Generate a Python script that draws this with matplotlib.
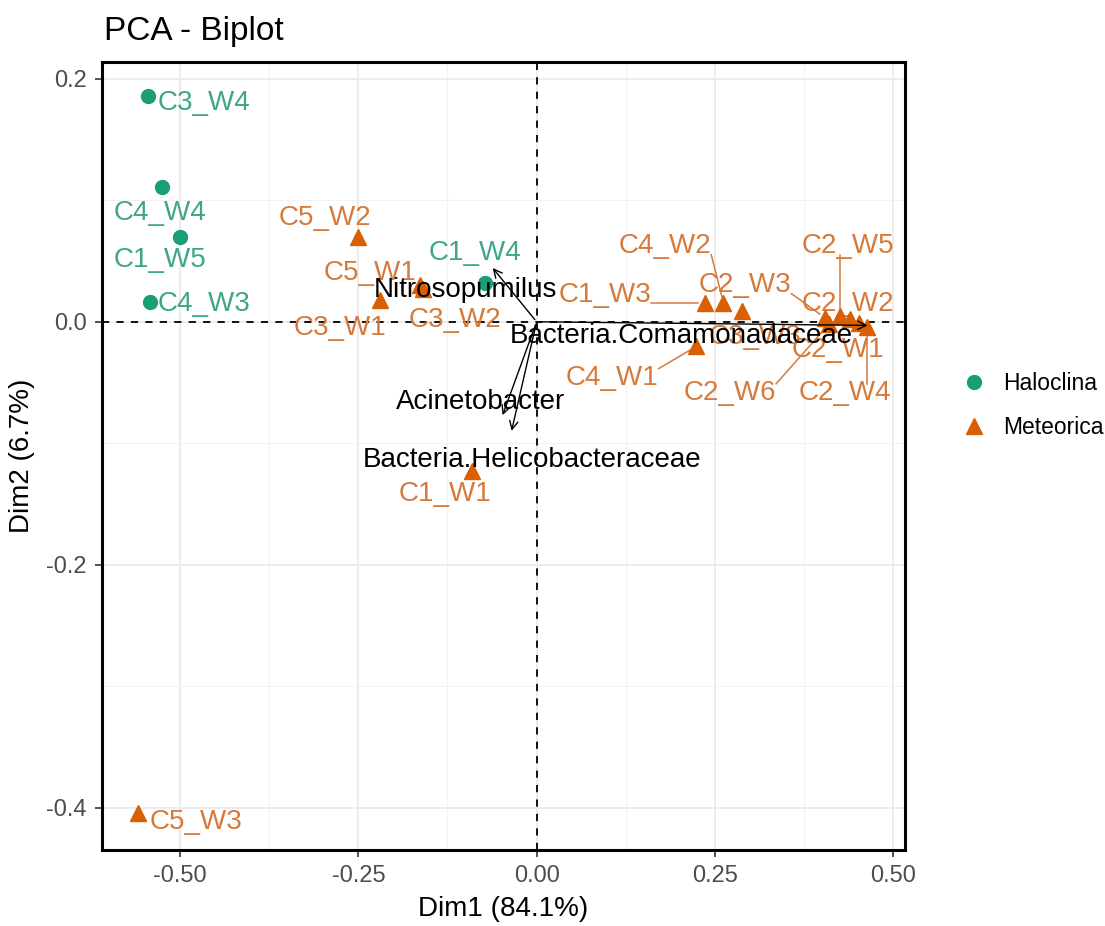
import numpy as np
import matplotlib
matplotlib.use("Agg")
import matplotlib.pyplot as plt
from matplotlib.lines import Line2D

plt.rcParams['font.family'] = ['Liberation Sans', 'DejaVu Sans']

# sample scores on the first two components
samples = ["C3_W4", "C4_W4", "C1_W5", "C4_W3", "C1_W4",
           "C5_W2", "C5_W1", "C3_W1", "C3_W2", "C1_W1", "C5_W3",
           "C1_W3", "C4_W2", "C3_W3", "C4_W1",
           "C2_W3", "C2_W5", "C2_W2", "C2_W6", "C2_W1", "C2_W4"]
group = ["Haloclina"] * 5 + ["Meteorica"] * 16
dim1 = [-0.545, -0.526, -0.500, -0.542, -0.0725,
        -0.250, -0.164, -0.220, -0.160, -0.091, -0.559,
        0.2365, 0.262, 0.2875, 0.224,
        0.405, 0.425, 0.440, 0.410, 0.452, 0.464]
dim2 = [0.1854, 0.111, 0.070, 0.0159, 0.0318,
        0.070, 0.030, 0.018, 0.027, -0.123, -0.404,
        0.0154, 0.0154, 0.0085, -0.0203,
        0.003, 0.005, 0.002, -0.002, -0.001, -0.004]

# where the repelled labels ended up
label_x = [-0.466, -0.528, -0.528, -0.466, -0.0865,
           -0.297, -0.234, -0.2755, -0.1146, -0.1286, -0.478,
           0.096, 0.180, 0.306, 0.106,
           0.2925, 0.437, 0.437, 0.271, 0.423, 0.433]
label_y = [0.180, 0.0897, 0.051, 0.0145, 0.0568,
           0.0856, 0.0403, -0.005, 0.0016, -0.1416, -0.4115,
           0.022, 0.0625, -0.0123, -0.046,
           0.0305, 0.0625, 0.0148, -0.0584, -0.023, -0.0584]

# variable loadings (arrows)
var_names = ["Nitrosopumilus", "Bacteria.Comamonadaceae",
             "Acinetobacter", "Bacteria.Helicobacteraceae"]
var_dim1 = [-0.064, 0.468, -0.049, -0.036]
var_dim2 = [0.046, -0.003, -0.079, -0.092]
var_label_x = [-0.100, 0.2025, -0.079, -0.0066]
var_label_y = [0.0263, -0.0115, -0.0658, -0.1136]

colors = {"Haloclina": "#1B9E77", "Meteorica": "#D95F02"}
text_colors = {"Haloclina": "#3FA58A", "Meteorica": "#D57A3A"}
markers = {"Haloclina": "o", "Meteorica": "^"}
msize = {"Haloclina": 10, "Meteorica": 12}

fig = plt.figure(figsize=(11.05, 9.26), dpi=100)
ax = fig.add_axes([0.0923, 0.0821, 0.7267, 0.8513])

ax.set_xlim(-0.6095, 0.5166)
ax.set_ylim(-0.4346, 0.214)
ax.set_xticks([-0.5, -0.25, 0.0, 0.25, 0.5])
ax.set_xticklabels(["-0.50", "-0.25", "0.00", "0.25", "0.50"])
ax.set_yticks([-0.4, -0.2, 0.0, 0.2])
ax.set_yticklabels(["-0.4", "-0.2", "0.0", "0.2"])
ax.set_xticks([-0.375, -0.125, 0.125, 0.375], minor=True)
ax.set_yticks([-0.3, -0.1, 0.1], minor=True)
ax.grid(which="major", color="#EBEBEB", lw=1.3, zorder=0)
ax.grid(which="minor", color="#F2F2F2", lw=0.8, zorder=0)
ax.set_axisbelow(True)
ax.tick_params(which="major", direction="out", length=5, width=1.2,
               color="#333333", labelcolor="#4D4D4D", labelsize=17, pad=6)
ax.tick_params(which="minor", length=0)
for s in ax.spines.values():
    s.set_linewidth(2.2)
    s.set_color("black")

ax.axhline(0, color="black", ls=(0, (4, 4)), lw=1.3, zorder=1)
ax.axvline(0, color="black", ls=(0, (4, 4)), lw=1.3, zorder=1)

ax.set_xlabel("Dim1 (84.1%)", fontsize=20, labelpad=6)
ax.set_ylabel("Dim2 (6.7%)", fontsize=20, labelpad=8)
fig.text(0.094, 0.966, "PCA - Biplot", fontsize=24, ha="left", va="center")

for g in ["Haloclina", "Meteorica"]:
    xs = [x for x, gg in zip(dim1, group) if gg == g]
    ys = [y for y, gg in zip(dim2, group) if gg == g]
    ax.plot(xs, ys, ls="none", marker=markers[g], ms=msize[g],
            color=colors[g], zorder=3)

label_texts = []
for name, g, lx, ly in zip(samples, group, label_x, label_y):
    t = ax.text(lx, ly, name, color=text_colors[g], fontsize=20,
                ha="center", va="center", zorder=2)
    label_texts.append(t)

for vx, vy in zip(var_dim1, var_dim2):
    ax.annotate("", xy=(vx, vy), xytext=(0, 0),
                arrowprops=dict(arrowstyle="->,head_length=0.6,head_width=0.3",
                                color="black", lw=1.0), zorder=4)
for name, lx, ly in zip(var_names, var_label_x, var_label_y):
    ax.text(lx, ly, name, color="black", fontsize=20, ha="center",
            va="center", zorder=5)

# connector segments from each label box to its point
fig.canvas.draw()
renderer = fig.canvas.get_renderer()
inv = ax.transData.inverted()
for t, x, y, g in zip(label_texts, dim1, dim2, group):
    bb = t.get_window_extent(renderer)
    px, py = ax.transData.transform((x, y))
    nx = min(max(px, bb.x0), bb.x1)
    ny = min(max(py, bb.y0 + 4), bb.y1 - 4)
    d = np.hypot(px - nx, py - ny)
    if d > 22:
        ux, uy = (px - nx) / d, (py - ny) / d
        ex, ey = px - ux * 7, py - uy * 7
        p0 = inv.transform((nx, ny))
        p1 = inv.transform((ex, ey))
        ax.plot([p0[0], p1[0]], [p0[1], p1[1]], color=text_colors[g],
                lw=1.1, zorder=2)

handles = [Line2D([], [], ls="none", marker=markers[g], ms=msize[g],
                  color=colors[g], label=g) for g in ["Haloclina", "Meteorica"]]
fig.legend(handles=handles, loc="center left", bbox_to_anchor=(0.852, 0.562),
           frameon=False, fontsize=16.5, handletextpad=0.8, labelspacing=0.9,
           handlelength=1.0)

fig.savefig("out.png", dpi=100)
